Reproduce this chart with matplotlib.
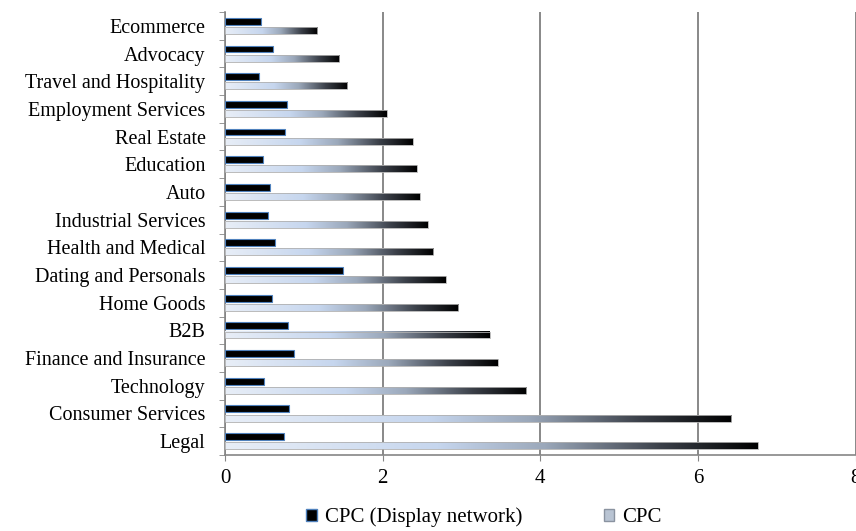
import matplotlib; matplotlib.use("Agg"); import matplotlib.pyplot as plt
from matplotlib.colors import LinearSegmentedColormap
from matplotlib.patches import Patch
import numpy as np

plt.rcParams['font.family'] = ['Liberation Serif', 'DejaVu Serif']

# bottom-to-top order (as drawn)
categories = ["Legal", "Consumer Services", "Technology", "Finance and Insurance", "B2B",
              "Home Goods", "Dating and Personals", "Health and Medical", "Industrial Services",
              "Auto", "Education", "Real Estate", "Employment Services",
              "Travel and Hospitality", "Advocacy", "Ecommerce"]
cpc_display = [0.75, 0.81, 0.50, 0.88, 0.80, 0.59, 1.50, 0.64, 0.55, 0.57, 0.48, 0.76, 0.79, 0.43, 0.61, 0.46]
cpc = [6.76, 6.42, 3.82, 3.46, 3.36, 2.96, 2.80, 2.64, 2.57, 2.47, 2.43, 2.38, 2.05, 1.55, 1.45, 1.17]
xticks = [0, 2, 4, 6, 8]

grad = LinearSegmentedColormap.from_list("cpcgrad", [
    (0.0, '#e8eef7'), (0.4, '#c6d6ee'), (0.6, '#9ba8ba'), (0.82, '#3b4049'), (1.0, '#000000')])

fig = plt.figure(figsize=(8.56, 5.31), dpi=100)
ax = fig.add_axes([0.2629, 0.1431, 0.7366, 0.8343])

y = np.arange(len(categories))
h = 0.25; off = 0.165
ax.barh(y + off, cpc_display, height=h, color='black', edgecolor='#4f81bd', lw=0.8, zorder=3)
bars = ax.barh(y - off, cpc, height=h, color='none', edgecolor='#b0b0b0', lw=0.6, zorder=4)

# horizontal gradient fill per CPC bar
g = np.linspace(0, 1, 256).reshape(1, -1)
for b in bars:
    x0, y0 = b.get_x(), b.get_y()
    ax.imshow(g, cmap=grad, aspect='auto', extent=(x0, x0 + b.get_width(), y0, y0 + b.get_height()),
              zorder=3, interpolation='bilinear')

ax.set_xlim(0, 8); ax.set_ylim(-0.5, len(categories) - 0.5)
ax.set_xticks(xticks)
ax.set_yticks(y); ax.set_yticklabels(categories)
ax.set_yticks(np.arange(-0.5, len(categories), 1), minor=True)
ax.tick_params(axis='y', which='major', length=0, pad=14, labelsize=14.5)
ax.tick_params(axis='y', which='minor', length=4, color='#868686', direction='out')
ax.tick_params(axis='x', length=4, color='#868686', labelsize=15, pad=6)
ax.grid(axis='x', color='#7f7f7f', lw=1.3, zorder=0)
ax.set_axisbelow(True)
for s in ('top', 'right'):
    ax.spines[s].set_visible(False)
for s in ('left', 'bottom'):
    ax.spines[s].set_color('#868686'); ax.spines[s].set_linewidth(1.2)

handles = [Patch(facecolor='black', edgecolor='#4f81bd', label='CPC (Display network)'),
           Patch(facecolor='#b9c4d3', edgecolor='#8a93a0', label='CPC')]
fig.legend(handles=handles, loc='center', bbox_to_anchor=(0.5655, 0.026), ncol=2, frameon=False,
           fontsize=15, handlelength=0.5, handleheight=0.5, handletextpad=0.4, columnspacing=3.9)

fig.savefig("out.png", dpi=100, facecolor='white')
